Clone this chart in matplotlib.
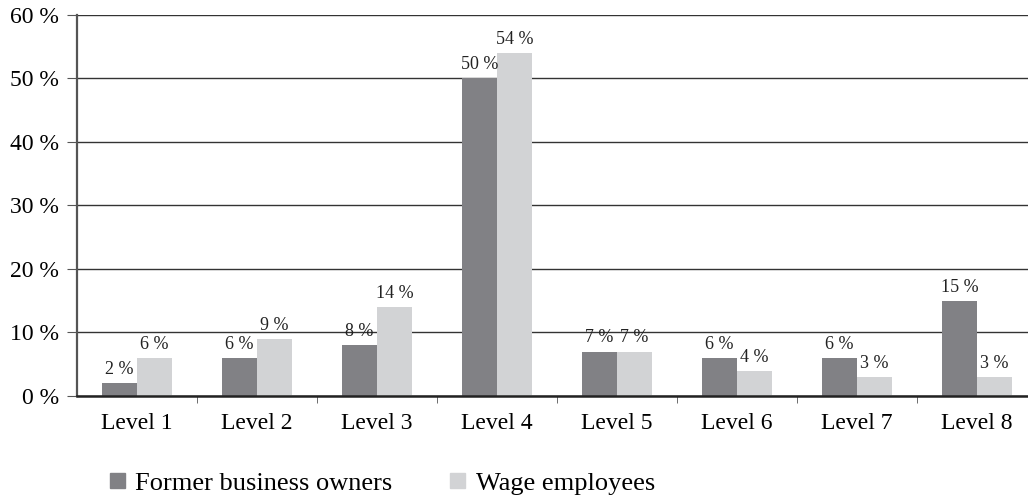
import numpy as np
import matplotlib.pyplot as plt
from matplotlib.patches import Patch

levels = ['Level 1', 'Level 2', 'Level 3', 'Level 4', 'Level 5', 'Level 6', 'Level 7', 'Level 8']
former_owners = [2, 6, 8, 50, 7, 6, 6, 15]
wage_employees = [6, 9, 14, 54, 7, 4, 3, 3]
yticks = [0, 10, 20, 30, 40, 50, 60]

dark = '#818185'
light = '#d2d3d5'
plt.rcParams['font.family'] = ['Liberation Serif', 'DejaVu Serif']

fig = plt.figure(figsize=(10.28, 5.01), dpi=100)
ax = fig.add_axes([0.0749, 0.2096, 0.934, 0.7605])

x = np.arange(len(levels))
w = 0.29
b1 = ax.bar(x - w / 2, former_owners, w, color=dark, zorder=3)
b2 = ax.bar(x + w / 2, wage_employees, w, color=light, zorder=3)

for rect, v in zip(b1, former_owners):
    ax.text(rect.get_x() + rect.get_width() / 2, v + 0.8, f'{v} %',
            ha='center', va='bottom', fontsize=13, color='#222222')
for rect, v in zip(b2, wage_employees):
    ax.text(rect.get_x() + rect.get_width() / 2, v + 0.8, f'{v} %',
            ha='center', va='bottom', fontsize=13, color='#222222')

ax.set_xlim(-0.5, 7.5)
ax.set_ylim(0, 60)
ax.set_yticks(yticks)
ax.set_yticklabels([f'{t} %' for t in yticks], fontsize=17)
ax.yaxis.grid(True, color='#333333', linewidth=1.0, zorder=0)
ax.set_axisbelow(True)

# category names centred, small ticks at category boundaries
ax.set_xticks(x)
ax.set_xticklabels(levels, fontsize=17)
ax.tick_params(axis='x', which='major', length=0, pad=12)
ax.set_xticks(np.arange(0.5, 7.5, 1), minor=True)
ax.tick_params(axis='x', which='minor', length=5, color='#555555', direction='out')
ax.tick_params(axis='y', length=7, color='#555555', pad=6)

for s in ['top', 'right']:
    ax.spines[s].set_visible(False)
ax.spines['left'].set_color('#555555')
ax.spines['left'].set_linewidth(1.6)
ax.spines['bottom'].set_color('#222222')
ax.spines['bottom'].set_linewidth(1.8)
ax.spines['bottom'].set_zorder(4)

handles = [Patch(color=dark, label='Former business owners'),
           Patch(color=light, label='Wage employees')]
fig.legend(handles=handles, loc='lower left', bbox_to_anchor=(0.084, -0.035), ncol=2,
           frameon=False, fontsize=19, handlelength=0.55, handleheight=0.55,
           handletextpad=0.4, columnspacing=2.2)

fig.savefig('out.png', dpi=100)
